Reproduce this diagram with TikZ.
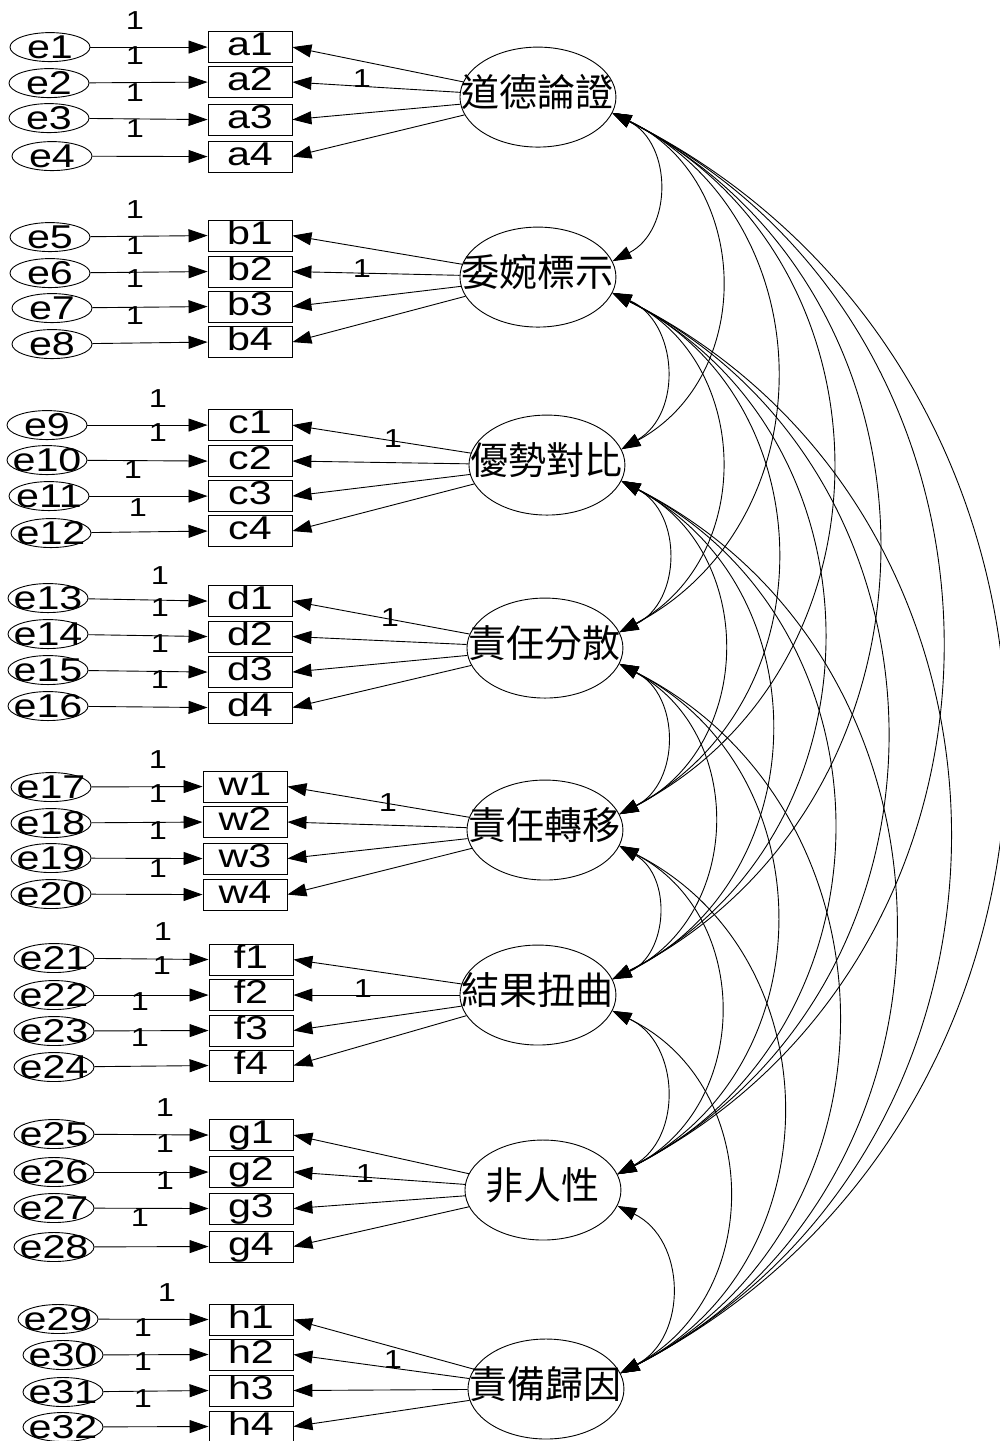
\documentclass[tikz,border=0pt]{standalone}
\usepackage{fontspec}
\setmainfont{Liberation Sans}
\newfontfamily\cjk{Noto Sans CJK TC}
\newfontfamily\latw[FakeStretch=1.25]{Liberation Sans}
\usetikzlibrary{arrows.meta,shapes.geometric}
% whole picture drawn at 1/20 scale (1 unit = 0.05pt)
\newcommand\lbig{\latw\fontsize{1.65pt}{1.95pt}\selectfont}
\newcommand\lone{\latw\fontsize{1.3pt}{1.55pt}\selectfont}
\newcommand\cbig{\cjk\fontsize{1.9pt}{2.2pt}\selectfont}
\newcommand\etx[1]{\smash{\makebox[0pt]{\raisebox{-0.59pt}{#1}}}}
\newcommand\ftx[1]{\smash{\makebox[0pt]{\raisebox{-0.475pt}{#1}}}}
\tikzset{
  ln/.style={line width=0.045pt},
  tipA/.tip={Triangle[length=0.95pt,width=0.65pt]},
  arr/.style={ln,-tipA},
  cov/.style={ln,tipA-tipA,bend left=63,looseness=1.171},
  obs/.style={draw,ln,rectangle,minimum width=4.2pt,minimum height=1.55pt,inner sep=0pt,text height=1.15pt,text depth=0.3pt,font=\lbig},
  err/.style={draw,ln,ellipse,minimum width=4pt,minimum height=1.45pt,inner sep=0pt,font=\lbig},
  lat/.style={draw,ln,ellipse,minimum width=7.8pt,minimum height=5pt,inner sep=0pt,font=\cbig},
  one/.style={inner sep=0pt,font=\lone},
}
\begin{document}
\begin{tikzpicture}[x=0.05pt,y=-0.05pt]
\useasboundingbox (0,0) rectangle (999,1441);
% latent factors
\node[lat] (F1) at (538,97) {\ftx{道德論證}};
\node[lat] (F2) at (538,277) {\ftx{委婉標示}};
\node[lat] (F3) at (547,465) {\ftx{優勢對比}};
\node[lat] (F4) at (545,648) {\ftx{責任分散}};
\node[lat] (F5) at (545,830) {\ftx{責任轉移}};
\node[lat] (F6) at (538,995) {\ftx{結果扭曲}};
\node[lat] (F7) at (543,1190) {\ftx{非人性}};
\node[lat] (F8) at (546,1389) {\ftx{責備歸因}};
% group a
\node[obs] (a1) at (250,47) {a1};
\node[obs] (a2) at (250,82) {a2};
\node[obs] (a3) at (250,119.5) {a3};
\node[obs] (a4) at (250,156.5) {a4};
\node[err] (e1) at (50,47) {\etx{e1}};
\node[err] (e2) at (49,83) {\etx{e2}};
\node[err] (e3) at (49,118) {\etx{e3}};
\node[err] (e4) at (52,156) {\etx{e4}};
% group b
\node[obs] (b1) at (250,235.5) {b1};
\node[obs] (b2) at (250,271.5) {b2};
\node[obs] (b3) at (250,306.5) {b3};
\node[obs] (b4) at (250,342) {b4};
\node[err] (e5) at (50,237) {\etx{e5}};
\node[err] (e6) at (50,273) {\etx{e6}};
\node[err] (e7) at (52,308) {\etx{e7}};
\node[err] (e8) at (52,344) {\etx{e8}};
% group c
\node[obs] (c1) at (250,425) {c1};
\node[obs] (c2) at (250,461) {c2};
\node[obs] (c3) at (250,496) {c3};
\node[obs] (c4) at (250,531) {c4};
\node[err] (e9) at (47,425) {\etx{e9}};
\node[err] (e10) at (47,460) {\etx{e10}};
\node[err] (e11) at (49,496) {\etx{e11}};
\node[err] (e12) at (51,533) {\etx{e12}};
% group d
\node[obs] (d1) at (250,601) {d1};
\node[obs] (d2) at (250,636.5) {d2};
\node[obs] (d3) at (250,672) {d3};
\node[obs] (d4) at (250,707.5) {d4};
\node[err] (e13) at (48,598) {\etx{e13}};
\node[err] (e14) at (48,634) {\etx{e14}};
\node[err] (e15) at (48,670) {\etx{e15}};
\node[err] (e16) at (48,706) {\etx{e16}};
% group w
\node[obs] (w1) at (245,786.5) {w1};
\node[obs] (w2) at (245,822) {w2};
\node[obs] (w3) at (245,858.5) {w3};
\node[obs] (w4) at (245,894.5) {w4};
\node[err] (e17) at (51,787) {\etx{e17}};
\node[err] (e18) at (51,823) {\etx{e18}};
\node[err] (e19) at (51,858) {\etx{e19}};
\node[err] (e20) at (51,894) {\etx{e20}};
% group f
\node[obs] (f1) at (251,959.5) {f1};
\node[obs] (f2) at (251,995) {f2};
\node[obs] (f3) at (251,1030.5) {f3};
\node[obs] (f4) at (251,1065.5) {f4};
\node[err] (e21) at (54,958) {\etx{e21}};
\node[err] (e22) at (54,995) {\etx{e22}};
\node[err] (e23) at (54,1031) {\etx{e23}};
\node[err] (e24) at (54,1067) {\etx{e24}};
% group g
\node[obs] (g1) at (251,1135) {g1};
\node[obs] (g2) at (251,1172) {g2};
\node[obs] (g3) at (251,1208.5) {g3};
\node[obs] (g4) at (251,1246.5) {g4};
\node[err] (e25) at (54,1134) {\etx{e25}};
\node[err] (e26) at (54,1172) {\etx{e26}};
\node[err] (e27) at (54,1208) {\etx{e27}};
\node[err] (e28) at (54,1247) {\etx{e28}};
% group h
\node[obs] (h1) at (251,1319.5) {h1};
\node[obs] (h2) at (251,1354.5) {h2};
\node[obs] (h3) at (251,1390.5) {h3};
\node[obs] (h4) at (251,1426.5) {h4};
\node[err] (e29) at (58,1319) {\etx{e29}};
\node[err] (e30) at (63,1355) {\etx{e30}};
\node[err] (e31) at (63,1392) {\etx{e31}};
\node[err] (e32) at (63,1427) {\etx{e32}};
% loadings and error paths
\foreach \F/\g/\k in {F1/a/0,F2/b/4,F3/c/8,F4/d/12,F5/w/16,F6/f/20,F7/g/24,F8/h/28}{
  \foreach \n in {1,2,3,4}{
    \pgfmathtruncatemacro\en{\k+\n}
    \draw[arr] (\F) -- (\g\n.east);
    \draw[arr] (e\en) -- (\g\n.west);
  }
}
% covariances
\foreach \i in {1,...,7}{
  \pgfmathtruncatemacro\s{\i+1}
  \foreach \j in {\s,...,8}{
    \draw[cov] (F\i.-12) to (F\j.12);
  }
}
% regression weight labels
\foreach \p/\q [count=\c] in {135/20,135/55,135/92,135/128,
                   135/209,135/245,135/278,135/315,
                   158/398,158/432,133/469,138/507,
                   160/575,160/607,160/643,160/679,
                   158/760,158/794,158/831,158/868,
                   163/932,162/966,140/1002,140/1038,
                   165/1108,165/1144,165/1181,140/1218,
                   167/1293,143/1328,143/1362,143/1399,
                   362/78,362/268,393/438,390/617,388/803,363/989,365/1174,393/1360}{
  \node[one] (lab\c) at (\p,\q) {1};
}
\end{tikzpicture}
\end{document}
